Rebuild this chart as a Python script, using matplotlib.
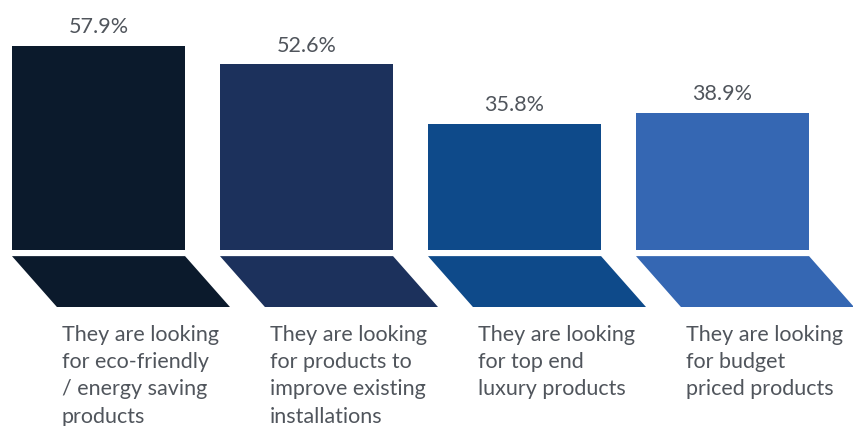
import matplotlib
matplotlib.use("Agg")
import matplotlib.pyplot as plt
from matplotlib.patches import Polygon
import numpy as np

categories = [
    "They are looking\nfor eco-friendly\n/ energy saving\nproducts",
    "They are looking\nfor products to\nimprove existing\ninstallations",
    "They are looking\nfor top end\nluxury products",
    "They are looking\nfor budget\npriced products",
]
values = [57.9, 52.6, 35.8, 38.9]
colors = ["#0b1a2c", "#1c315c", "#0e4a8a", "#3567b3"]

plt.rcParams['font.family'] = ['Lato', 'DejaVu Sans']
text_color = "#50555c"

fig = plt.figure(figsize=(8.54, 4.26), dpi=100)
ax = fig.add_axes([0, 0, 1, 1])
ax.set_xlim(-0.4736, 3.632)
ax.set_ylim(-50.1, 70.9)
ax.axis('off')

x = np.arange(len(values))
width = 0.832
ax.bar(x, values, width=width, color=colors, edgecolor='none')

# slanted "keyboard" base under each bar
base_top, base_bottom, slant = -1.85, -16.3, 0.216
for xi, c in zip(x, colors):
    left, right = xi - width / 2, xi + width / 2
    ax.add_patch(Polygon([(left, base_top), (right, base_top),
                          (right + slant, base_bottom), (left + slant, base_bottom)],
                         closed=True, facecolor=c, edgecolor='none'))

for xi, v in zip(x, values):
    ax.annotate(f"{v}%", (xi, v), xytext=(0, 6), textcoords='offset points',
                ha='center', va='bottom', fontsize=15.5, color=text_color)

for xi, label in zip(x, categories):
    ax.text(xi - width / 2 + slant + 0.024, -21.4, label, ha='left', va='top',
            fontsize=15.5, color=text_color, linespacing=1.45)

fig.savefig("out.png", dpi=100)
